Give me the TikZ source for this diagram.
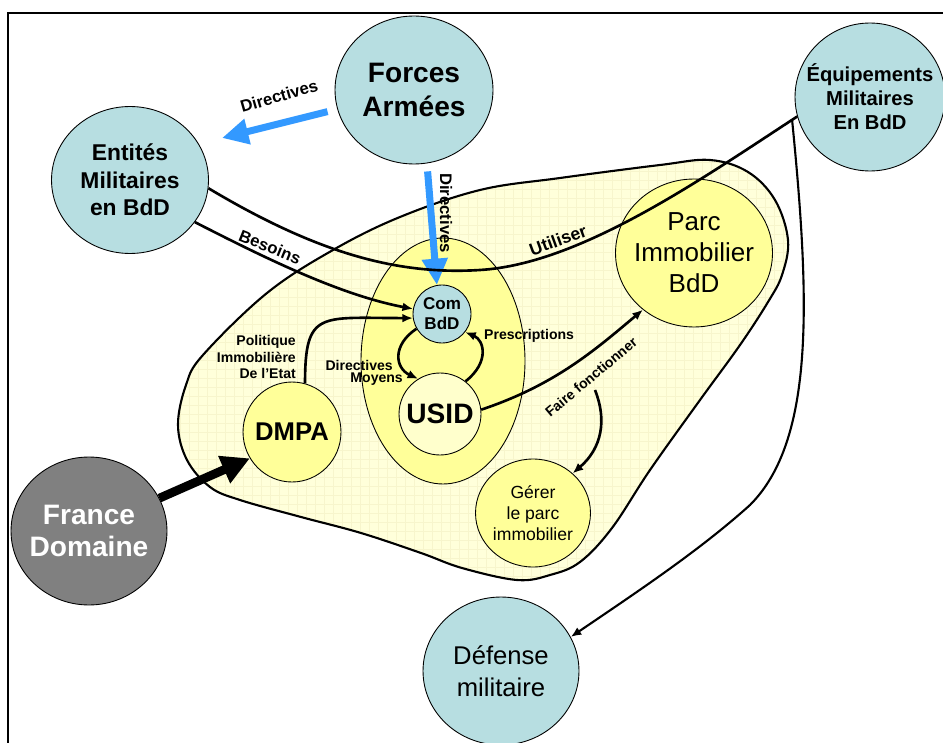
\documentclass[tikz,border=0pt]{standalone}
\usepackage{fontspec}
\setmainfont{Liberation Sans}
\usetikzlibrary{arrows.meta, shapes.geometric}
\definecolor{circblue}{HTML}{B7DEE1}
\definecolor{circyellow}{HTML}{FFFF99}
\definecolor{circcream}{HTML}{FFFFCC}
\definecolor{circgray}{HTML}{808080}
\definecolor{blobfill}{HTML}{FFFFDA}
\definecolor{blobgrid}{HTML}{F7F5CC}
\definecolor{dirblue}{HTML}{3399FF}
\newcommand{\fsz}[2]{\fontsize{#1}{#2}\selectfont}

\begin{document}
\begin{tikzpicture}[
    x=0.02cm, y=-0.02cm,
    every node/.style={align=center},
    bubble/.style={ellipse, draw=black, line width=0.5pt, inner sep=-0.4cm},
    bluebub/.style={bubble, fill=circblue},
    yellowbub/.style={bubble, fill=circyellow},
    creambub/.style={bubble, fill=circcream},
    graybub/.style={bubble, fill=circgray, text=white},
    link/.style={line width=1.5pt},
    linkarrow/.style={link, -{Latex[length=6pt,width=5pt]}},
    dirarrow/.style={-{Triangle[length=15pt,width=14pt]}, line width=4pt, dirblue},
    bigarrow/.style={-{Triangle[length=16pt,width=16pt]}, line width=5pt},
    lbl/.style={font=\fsz{8}{9.6}\bfseries}
]
  \useasboundingbox (0,0) rectangle (943,743);
  \fill[white] (0,0) rectangle (943,743);
  \draw[line width=1.7pt] (8,743) -- (8,13) -- (943,13);

  % zone BdD
  \def\blobpath{plot[smooth cycle, tension=0.6] coordinates {
    (178,425) (186,385) (203,355) (267,293) (333,250) (400,217) (480,190)
    (560,178) (660,165) (710,160) (748,172) (775,200) (788,240) (782,275)
    (768,302) (740,345) (700,400) (650,470) (612,528) (580,562) (550,575)
    (517,580) (462,568) (421,553) (361,533) (301,517) (240,500) (210,487)
    (187,460)}}
  \fill[blobfill] \blobpath;
  \begin{scope}
    \clip \blobpath;
    \draw[blobgrid, line width=0.25pt, step=0.18cm] (160,150) grid (800,590);
  \end{scope}
  \draw[line width=1.2pt] \blobpath;

  \node[bluebub, minimum width=3.16cm, minimum height=2.96cm, font=\fsz{16}{19.8}\bfseries] (forces) at (414,90) {Forces\\Armées};
  \node[bluebub, minimum width=3.14cm, minimum height=2.94cm, font=\fsz{13}{15.6}\bfseries] (entites) at (130,180) {Entités\\Militaires\\en BdD};
  \node[bluebub, minimum width=3.0cm, minimum height=2.96cm, font=\fsz{11.5}{13.6}\bfseries] (equip) at (870,97) {Équipements\\Militaires\\En BdD};
  \node[yellowbub, minimum width=3.14cm, minimum height=2.96cm, font=\fsz{14.8}{17.6}] (parc) at (694,253) {Parc\\Immobilier\\BdD};
  \node[yellowbub, minimum width=3.28cm, minimum height=4.92cm] (usidzone) at (443,361) {};
  \node[bluebub, minimum size=1.16cm, font=\fsz{9.7}{11.3}\bfseries] (combdd) at (442,314) {Com\\BdD};
  \node[creambub, minimum size=1.64cm, font=\fsz{16}{19}\bfseries] (usid) at (440,414) {USID};
  \node[yellowbub, minimum width=1.96cm, minimum height=2cm, font=\fsz{14.6}{17}\bfseries] (dmpa) at (292,432) {DMPA};
  \node[yellowbub, minimum width=2.3cm, minimum height=2.16cm, font=\fsz{10}{12}] (gerer) at (533,513) {Gérer\\le parc\\immobilier};
  \node[graybub, minimum width=3.12cm, minimum height=2.96cm, font=\fsz{16}{18.7}\bfseries] (france) at (89,531) {France\\Domaine};
  \node[bluebub, minimum width=3.12cm, minimum height=2.96cm, font=\fsz{14.6}{18}] (defense) at (501,671) {Défense\\militaire};

  \coordinate (dirtip) at (222,138);
  \coordinate (fork) at (792,119);
  \coordinate (ffstart) at (595,390);

  % liens
  \draw[dirarrow, shorten <=0.2cm] (forces) -- (dirtip);
  \draw[dirarrow, shorten <=0.16cm] (forces.-80) -- (combdd.100);
  \draw[link] (entites.-6) .. controls (320,255) and (400,275) .. (480,270)
    .. controls (580,264) and (700,180) .. (equip.195);
  \draw[linkarrow] (entites.-33) .. controls (265,258) and (340,295) .. (combdd.170);
  \draw[linkarrow] (dmpa.75) .. controls (305,310) and (320,318) .. (combdd.188);
  \draw[linkarrow] (combdd.210) .. controls (392,345) and (395,368) .. (usid.122);
  \draw[linkarrow] (usid.52) .. controls (490,362) and (484,340) .. (combdd.-38);
  \draw[linkarrow] (usid.6) .. controls (555,385) and (595,350) .. (parc.228);
  \draw[linkarrow] (ffstart) .. controls (607,420) and (602,448) .. (gerer.45);
  \draw[line width=1.2pt, -{Latex[length=6pt,width=5pt]}] (fork) .. controls (810,300) and (815,440) .. (750,505)
    .. controls (700,550) and (640,590) .. (defense.26);
  \draw[bigarrow] (france.25) -- (dmpa.212);

  % textes
  \node[font=\fsz{9.5}{11}\bfseries, rotate=16] (dirlbl) at (279,96) {Directives};
  \node[font=\fsz{9.5}{11}\bfseries, rotate=-90] (dirvlbl) at (446,213) {Directives};
  \node[font=\fsz{9.5}{11}\bfseries, rotate=-22] (besoinslbl) at (270,247) {Besoins};
  \node[font=\fsz{10}{12}\bfseries, rotate=20] (utiliserlbl) at (558,240) {Utiliser};
  \node[lbl, rotate=40] (fflbl) at (591,377) {Faire fonctionner};
  \node[lbl, anchor=west] (preslbl) at (478,336) {Prescriptions};
  \node[lbl, anchor=east, align=right] (polilbl) at (302,357) {Politique\\Immobilière\\De l’Etat};
  \node[lbl, anchor=east, align=right, font=\fsz{8}{7}\bfseries] (dirmoylbl) at (409,373) {Directives\hspace*{5.7pt}\\Moyens};
\end{tikzpicture}
\end{document}
